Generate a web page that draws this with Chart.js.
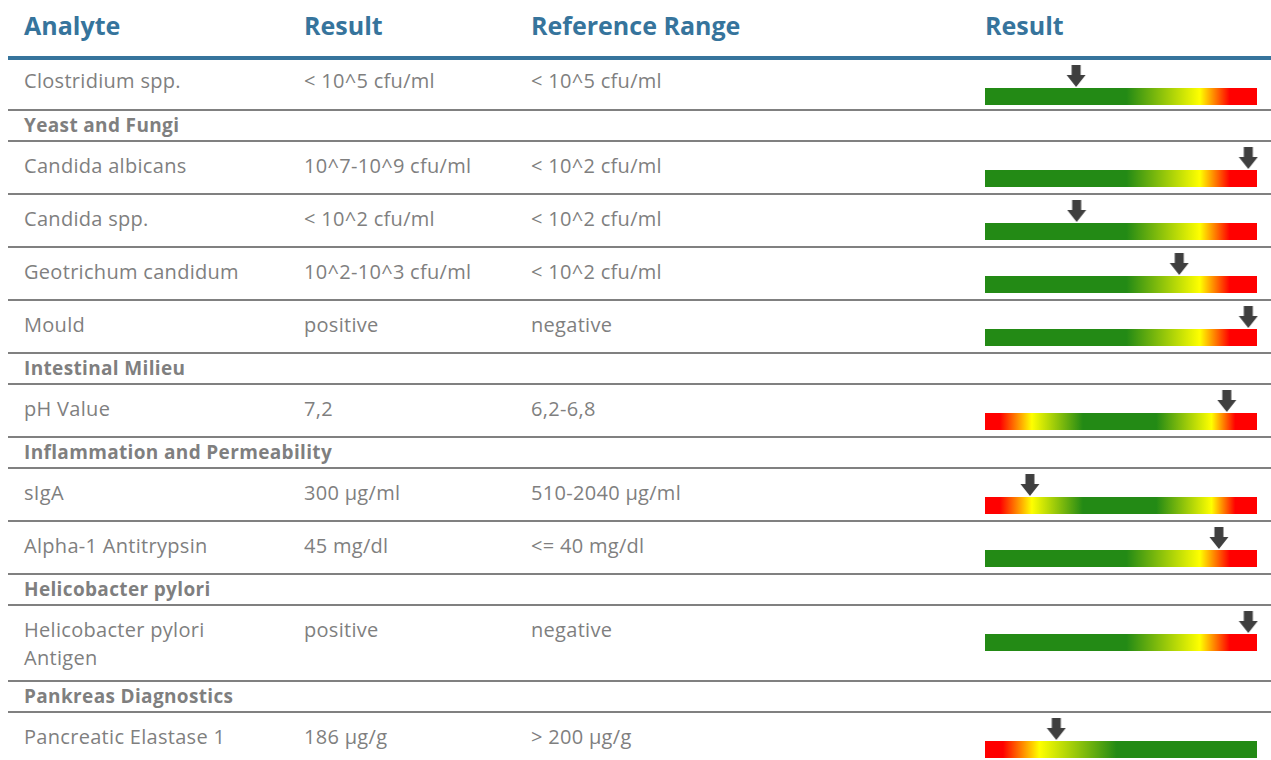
<!DOCTYPE html>
<html>
<head>
<meta charset="utf-8">
<script src="https://cdn.jsdelivr.net/npm/chart.js@4.4.1/dist/chart.umd.min.js"></script>
<style>
  body { margin: 0; background: #fff; font-family: "Open Sans", sans-serif; }
  #report { position: absolute; left: 8px; top: 0; width: 1263px; }
  .head { position: relative; height: 56px; border-bottom: 4px solid #36749c; }
  .head span { position: absolute; top: 13px; font-weight: bold; font-size: 25px; line-height: 25px; color: #36749c; white-space: nowrap; }
  .row { position: relative; border-bottom: 2px solid #808080; }
  .row span { position: absolute; top: 10px; font-size: 20px; letter-spacing: 0.3px; line-height: 28px; color: #7f7f7f; }
  .row.first span { top: 7px; }
  .row.section span { top: 0; font-size: 19px; letter-spacing: 0.35px; font-weight: bold; white-space: nowrap; }
  .row canvas { position: absolute; left: 967px; top: 0; }
</style>
</head>
<body>
<div id="report"></div>
<script>
// --- Data ------------------------------------------------------------------------------------------
const headers = ['Analyte', 'Result', 'Reference Range', 'Result']

const analytes = [
    'Clostridium spp.', 'Yeast and Fungi', 'Candida albicans', 'Candida spp.', 'Geotrichum candidum',
    'Mould', 'Intestinal Milieu', 'pH Value', 'Inflammation and Permeability', 'sIgA',
    'Alpha-1 Antitrypsin', 'Helicobacter pylori', 'Helicobacter pylori Antigen', 'Pankreas Diagnostics',
    'Pancreatic Elastase 1'
]

const sections = ['Yeast and Fungi', 'Intestinal Milieu', 'Inflammation and Permeability', 'Helicobacter pylori', 'Pankreas Diagnostics']

const results = [
    '< 10^5 cfu/ml', null, '10^7-10^9 cfu/ml', '< 10^2 cfu/ml', '10^2-10^3 cfu/ml',
    'positive', null, '7,2', null, '300 µg/ml',
    '45 mg/dl', null, 'positive', null, '186 µg/g'
]

const referenceRanges = [
    '< 10^5 cfu/ml', null, '< 10^2 cfu/ml', '< 10^2 cfu/ml', '< 10^2 cfu/ml',
    'negative', null, '6,2-6,8', null, '510-2040 µg/ml',
    '<= 40 mg/dl', null, 'negative', null, '> 200 µg/g'
]

// where the arrow sits on the 0-100 gauge
const markerPositions = [33.5, null, 96.8, 33.7, 71.4, 96.8, null, 88.9, null, 16.5, 86, null, 96.8, null, 26.2]

// 'high' = green -> red, 'range' = red -> green -> red, 'low' = red -> green
const gaugeKinds = ['high', null, 'high', 'high', 'high', 'high', null, 'range', null, 'range', 'high', null, 'high', null, 'low']


// --- Styles ----------------------------------------------------------------------------------------
const GREEN = '#238a15'
const YELLOW = '#ffff00'
const RED = '#ff0000'

const gradientStops = {
    high: [[0, GREEN], [0.52, GREEN], [0.79, YELLOW], [0.9, RED], [1, RED]],
    range: [[0, RED], [0.055, RED], [0.172, YELLOW], [0.36, GREEN], [0.63, GREEN], [0.833, YELLOW], [0.92, RED], [1, RED]],
    low: [[0, RED], [0.066, RED], [0.2, YELLOW], [0.484, GREEN], [1, GREEN]]
}

const columnLeft = [16, 296, 523, 977]


// --- Helpers ---------------------------------------------------------------------------------------
function makeArrow() {
    const c = document.createElement('canvas')
    c.width = 20
    c.height = 65
    const g = c.getContext('2d')
    g.fillStyle = '#3f3f3f'
    g.beginPath()
    g.moveTo(5.5, 1)
    g.lineTo(14.5, 1)
    g.lineTo(14.5, 11)
    g.lineTo(19.5, 11)
    g.lineTo(10, 23)
    g.lineTo(0.5, 11)
    g.lineTo(5.5, 11)
    g.closePath()
    g.fill()
    return c
}

function gaugeGradient(chart, kind) {
    const { chartArea } = chart
    if (!chartArea) return GREEN
    const xs = chart.scales.x
    const grad = chart.ctx.createLinearGradient(xs.getPixelForValue(0), 0, xs.getPixelForValue(100), 0)
    gradientStops[kind].forEach(([stop, color]) => grad.addColorStop(stop, color))
    return grad
}

function createGauge(canvas, position, kind, arrow) {
    return new Chart(canvas, {
        type: 'bar',
        data: {
            labels: ['gauge'],
            datasets: [{
                data: [[0, 100]],
                backgroundColor: (ctx) => gaugeGradient(ctx.chart, kind),
                borderWidth: 0,
                barThickness: 19
            }, {
                type: 'scatter',
                data: [{ x: position, y: 'gauge' }],
                pointStyle: arrow,
                radius: 5,
                clip: false
            }]
        },
        options: {
            indexAxis: 'y',
            responsive: false,
            animation: false,
            events: [],
            layout: { padding: { left: 10, right: 10, top: 28, bottom: 0 } },
            plugins: { legend: { display: false }, tooltip: { enabled: false } },
            scales: {
                x: { type: 'linear', min: 0, max: 100, display: false },
                y: { type: 'category', display: false }
            }
        }
    })
}


// --- Build ------------------------------------------------------------------------------------------
const report = document.getElementById('report')
const arrow = makeArrow()

const head = document.createElement('div')
head.className = 'head'
headers.forEach((text, i) => {
    const s = document.createElement('span')
    s.textContent = text
    s.style.left = columnLeft[i] + 'px'
    head.appendChild(s)
})
report.appendChild(head)

analytes.forEach((name, i) => {
    const row = document.createElement('div')
    row.className = 'row'
    report.appendChild(row)

    if (sections.includes(name)) {
        row.classList.add('section')
        row.style.height = '29px'
        const s = document.createElement('span')
        s.textContent = name
        s.style.left = columnLeft[0] + 'px'
        row.appendChild(s)
        return
    }

    if (i === 0) row.classList.add('first')

    const cells = [name, results[i], referenceRanges[i]]
    let lines = 1
    cells.forEach((text, c) => {
        const s = document.createElement('span')
        s.textContent = text
        s.style.left = columnLeft[c] + 'px'
        s.style.width = c === 0 ? '232px' : '215px'
        row.appendChild(s)
        lines = Math.max(lines, Math.round(s.offsetHeight / 28))
    })
    row.style.height = (i === 0 ? 49 : 51 + (lines - 1) * 23) + 'px'

    const canvas = document.createElement('canvas')
    canvas.width = 292
    canvas.height = 51
    row.appendChild(canvas)
    createGauge(canvas, markerPositions[i], gaugeKinds[i], arrow)
})
</script>
</body>
</html>
